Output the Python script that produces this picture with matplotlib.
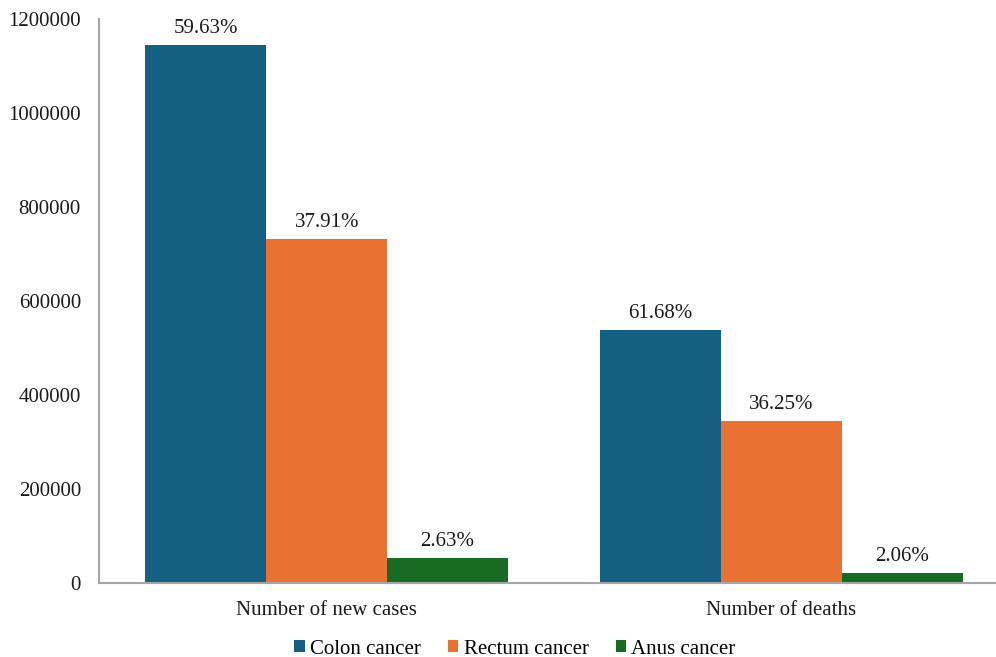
import matplotlib
matplotlib.use("Agg")
import matplotlib.pyplot as plt
import numpy as np
from matplotlib.patches import Patch

# Colorectal cancer burden by site
categories = ["Number of new cases", "Number of deaths"]
series_names = ["Colon cancer", "Rectum cancer", "Anus cancer"]
colon = [1144000, 538500]
rectum = [731000, 343500]
anus = [53500, 21500]
shares = [
    ["59.63%", "61.68%"],
    ["37.91%", "36.25%"],
    ["2.63%", "2.06%"],
]
yticks = [0, 200000, 400000, 600000, 800000, 1000000, 1200000]

colors = ["#156082", "#E97132", "#196B24"]
FS = 15

plt.rcParams["font.family"] = ["Liberation Serif", "DejaVu Serif"]
plt.rcParams["font.size"] = FS

fig = plt.figure(figsize=(9.96, 6.57), dpi=100)
ax = fig.add_axes([99 / 996, 1 - 583 / 657, 1 - 99 / 996, (583 - 18.5) / 657])

x = np.arange(len(categories))
width = 0.266
values = [colon, rectum, anus]
for i, (vals, col, labs) in enumerate(zip(values, colors, shares)):
    offs = (i - 1) * width
    bars = ax.bar(x + offs, vals, width, color=col, edgecolor="none", zorder=2)
    for b, lab in zip(bars, labs):
        ax.annotate(lab, (b.get_x() + b.get_width() / 2, b.get_height()),
                    xytext=(0, 5), textcoords="offset points",
                    ha="center", va="bottom", fontsize=FS, color="#1a1a1a")

ax.set_xlim(-0.501, 1.4725)
ax.set_ylim(0, 1200000)
ax.set_yticks(yticks)
ax.set_yticklabels([str(v) for v in yticks])
ax.set_xticks(x)
ax.set_xticklabels(categories)
ax.tick_params(axis="both", length=0, colors="#1a1a1a", labelsize=FS)
ax.tick_params(axis="y", pad=13)
ax.tick_params(axis="x", pad=13)

for s in ["top", "right"]:
    ax.spines[s].set_visible(False)
for s in ["left", "bottom"]:
    ax.spines[s].set_color("#a6a6a6")
    ax.spines[s].set_linewidth(1.5)

handles = [Patch(facecolor=c, edgecolor="none") for c in colors]
fig.legend(handles, series_names, loc="center", bbox_to_anchor=(515 / 996, 1 - 649 / 657),
           ncol=3, frameon=False, handlelength=0.5, handleheight=0.5,
           handletextpad=0.25, columnspacing=1.3, fontsize=FS)

fig.savefig("out.png", dpi=100)
